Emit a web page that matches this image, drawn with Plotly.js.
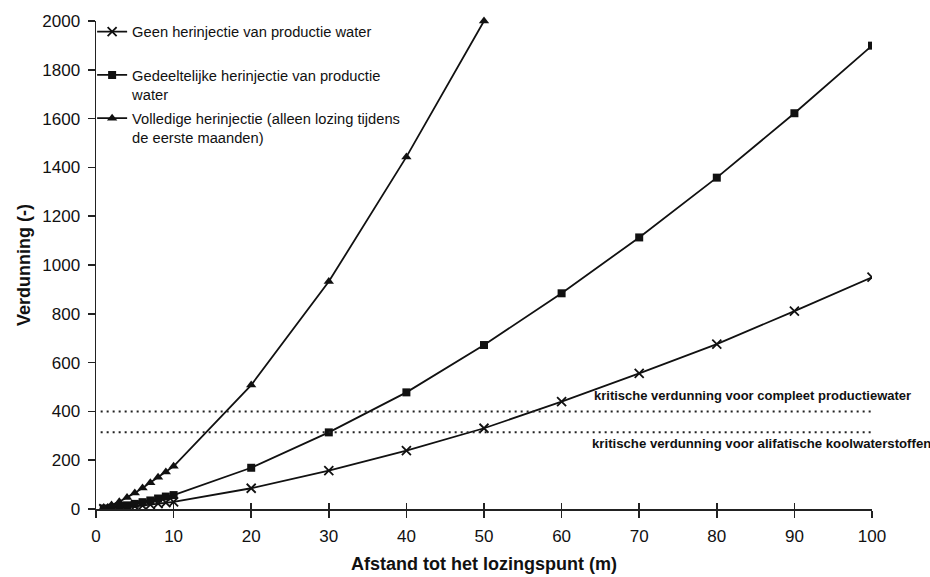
<!DOCTYPE html>
<html>
<head>
<meta charset="utf-8">
<script src="https://cdn.plot.ly/plotly-3.0.1.min.js"></script>
<style>
html,body{margin:0;padding:0;background:#fff;}
#chart{width:930px;height:577px;}
</style>
</head>
<body>
<div id="chart"></div>
<script>
// Distance from discharge point (m)
const distance = [1,2,3,4,5,6,7,8,9,10,20,30,40,50,60,70,80,90,100];
const distanceVolledig = [1,2,3,4,5,6,7,8,9,10,20,30,40,50];
// Dilution (-)
const geen = [1,3,5,8,11,14,18,22,26,29,85,157,239,331,440,556,676,811,950];
const gedeeltelijk = [2,5,10,15,21,28,35,43,51,57,169,314,478,672,884,1113,1358,1622,1899];
const volledig = [6,16,30,47,66,86,108,130,152,175,508,932,1443,2000];
// Critical dilutions
const kritischeWaarden = [400, 315];
const kritischeX = [0.6, 100];
const seriesNames = [
  "Geen herinjectie van productie water<br>&nbsp;",
  "Gedeeltelijke herinjectie van productie<br>water",
  "Volledige herinjectie (alleen lozing tijdens<br>de eerste maanden)"
];
const kritischeLabels = [
  "kritische verdunning voor compleet productiewater",
  "kritische verdunning voor alifatische koolwaterstoffen"
];
const xTicks = [0,10,20,30,40,50,60,70,80,90,100];
const yTicks = [0,200,400,600,800,1000,1200,1400,1600,1800,2000];

const FONT = "Liberation Sans, Arial, Helvetica, sans-serif";
const lineStyle = {color:'#111', width:1.8};

const traces = [
  {x: distance, y: geen, name: seriesNames[0], mode:'lines+markers', legendgroup:'a',
   line: lineStyle, marker:{symbol:'x-thin-open', size:9, color:'#111', line:{width:1.8, color:'#111'}}},
  {x: distance, y: gedeeltelijk, name: seriesNames[1], mode:'lines+markers', legendgroup:'b',
   line: lineStyle, marker:{symbol:'square', size:8, color:'#111'}},
  {x: distanceVolledig, y: volledig, name: seriesNames[2], mode:'lines+markers', legendgroup:'c',
   line: lineStyle, marker:{symbol:'triangle-up', size:9, color:'#111'}, cliponaxis:false},
  {x: kritischeX, y: [kritischeWaarden[0], kritischeWaarden[0]], mode:'lines', showlegend:false,
   line:{color:'#222', width:2, dash:'2px,4px'}, hoverinfo:'skip'},
  {x: kritischeX, y: [kritischeWaarden[1], kritischeWaarden[1]], mode:'lines', showlegend:false,
   line:{color:'#222', width:2, dash:'2px,4px'}, hoverinfo:'skip'},
  // empty helper trace so the overlaid tick axis is drawn
  {x: [], y: [], xaxis:'x2', yaxis:'y', mode:'lines', showlegend:false, hoverinfo:'skip'}
];

const layout = {
  width:930, height:577,
  margin:{l:96, r:58, t:21, b:68},
  paper_bgcolor:'#fff', plot_bgcolor:'#fff',
  font:{family:FONT, color:'#111'},
  showlegend:true,
  legend:{x:-0.005, y:1.011, xanchor:'left', yanchor:'top', bgcolor:'rgba(0,0,0,0)',
          font:{family:FONT, size:14.7, color:'#111'}, valign:'top', tracegroupgap:2,
          itemwidth:30},
  xaxis:{range:[0,100], tickvals:xTicks, ticktext:xTicks.map(String), ticks:'outside', ticklen:7,
         tickwidth:1.5, tickcolor:'#222', showline:true, linecolor:'#222', linewidth:1.5,
         showgrid:false, zeroline:false, tickfont:{size:17, family:FONT, color:'#111'}, ticklabelstandoff:4,
         title:{text:'Afstand tot het lozingspunt (m)', font:{size:18, family:FONT, color:'#111', weight:'bold'}, standoff:12}},
  xaxis2:{range:[0,100], overlaying:'x', anchor:'y', side:'bottom', tickvals:xTicks, ticks:'inside', ticklen:6,
         tickwidth:1.5, tickcolor:'#222', showticklabels:false, showline:false, showgrid:false, zeroline:false},
  yaxis:{range:[0,2000], tickvals:yTicks, ticktext:yTicks.map(String), ticks:'outside', ticklen:7,
         tickwidth:1.5, tickcolor:'#222', showline:true, linecolor:'#222', linewidth:1.5,
         showgrid:false, zeroline:false, tickfont:{size:17, family:FONT, color:'#111'}, ticklabelstandoff:4,
         title:{text:'Verdunning (-)', font:{size:18, family:FONT, color:'#111', weight:'bold'}, standoff:7}},
  annotations:[
    {x:63.9, y:467, xref:'x', yref:'y', text:kritischeLabels[0], showarrow:false, xanchor:'left', yanchor:'middle',
     font:{size:13, family:FONT, color:'#111', weight:'bold'}},
    {x:63.6, y:270, xref:'x', yref:'y', text:kritischeLabels[1], showarrow:false, xanchor:'left', yanchor:'middle',
     font:{size:13.2, family:FONT, color:'#111', weight:'bold'}}
  ]
};

Plotly.newPlot('chart', traces, layout, {staticPlot:true, displayModeBar:false});
</script>
</body>
</html>
